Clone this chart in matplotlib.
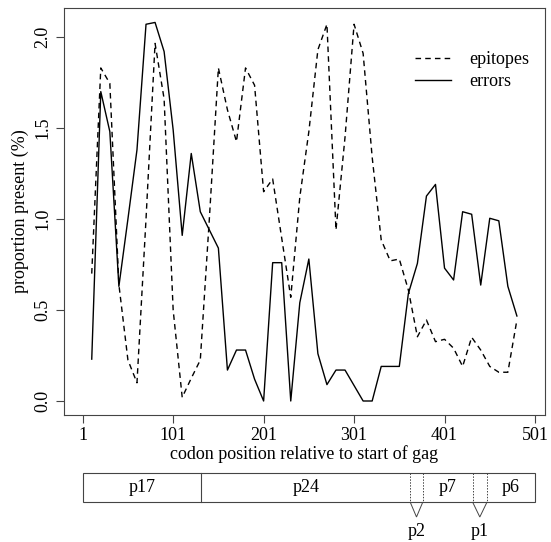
import matplotlib.pyplot as plt
from matplotlib.patches import Rectangle, Polygon

plt.rcParams['font.family'] = ['Liberation Serif', 'DejaVu Serif']

# codon positions of the sliding window
codon = [11, 21, 31, 41, 51, 61, 71, 81, 91, 101,
         111, 121, 131, 141, 151, 161, 171, 181, 191, 201,
         211, 221, 231, 241, 251, 261, 271, 281, 291, 301,
         311, 321, 331, 341, 351, 361, 371, 381, 391, 401,
         411, 421, 431, 441, 451, 461, 471, 481]

epitopes = [0.70, 1.83, 1.745, 0.64, 0.225, 0.10, 1.00, 1.965, 1.66, 0.50,
            0.02, 0.125, 0.225, 1.00, 1.83, 1.60, 1.425, 1.83, 1.735, 1.15,
            1.22, 0.895, 0.57, 1.12, 1.48, 1.93, 2.07, 0.94, 1.45, 2.07,
            1.91, 1.34, 0.885, 0.77, 0.78, 0.61, 0.353, 0.445, 0.326, 0.339,
            0.29, 0.19, 0.35, 0.28, 0.19, 0.158, 0.158, 0.445]

errors = [0.23, 1.70, 1.48, 0.63, 1.00, 1.38, 2.07, 2.08, 1.92, 1.49,
          0.91, 1.36, 1.04, 0.94, 0.84, 0.17, 0.28, 0.28, 0.12, 0.00,
          0.76, 0.76, 0.00, 0.54, 0.78, 0.26, 0.09, 0.17, 0.17, 0.085,
          0.00, 0.00, 0.19, 0.19, 0.19, 0.59, 0.756, 1.126, 1.19, 0.73,
          0.665, 1.04, 1.026, 0.637, 1.004, 0.99, 0.63, 0.467]

xticks = [1, 101, 201, 301, 401, 501]
yticks = [0.0, 0.5, 1.0, 1.5, 2.0]

# gag protein segments (codon boundaries)
seg_names = ['p17', 'p24', 'p2', 'p7', 'p1', 'p6']
seg_bounds = [1, 132, 363, 377, 432, 448, 501]
small_segs = ['p2', 'p1']

W, H = 551, 542
fs = 13
fig = plt.figure(figsize=(W / 100, H / 100), dpi=100)

left, right = 64 / W, 545 / W
bottom, top = 1 - 414.7 / H, 1 - 8.3 / H
ax = fig.add_axes([left, bottom, right - left, top - bottom])

ax.plot(codon, epitopes, color='black', lw=1.0, linestyle=(0, (4, 3)), label='epitopes')
ax.plot(codon, errors, color='black', lw=1.0, label='errors')

ax.set_xlim(-19.67, 512.06)
ax.set_ylim(-0.0753, 2.1577)
ax.set_xticks(xticks)
ax.set_xticklabels([str(t) for t in xticks])
ax.set_yticks(yticks)
ax.set_yticklabels([f'{t:.1f}' for t in yticks], rotation=90, va='center')
ax.tick_params(direction='out', length=6, width=0.8, labelsize=fs, pad=3)
for s in ax.spines.values():
    s.set_linewidth(0.8)
    s.set_color('#444444')
ax.tick_params(colors='#444444', labelcolor='black')

ax.set_xlabel('codon position relative to start of gag', fontsize=fs, labelpad=1)
ax.set_ylabel('proportion present (%)', fontsize=fs, labelpad=4)

ax.legend(loc='upper left', bbox_to_anchor=(0.73, 0.895), frameon=False,
          fontsize=fs, handlelength=2.0, handletextpad=1.0, labelspacing=0.3,
          borderpad=0, borderaxespad=0)

# gene map below the plot, y in pixel rows
ax2 = fig.add_axes([left, 0, right - left, 82 / H])
ax2.set_xlim(ax.get_xlim())
ax2.set_ylim(542, 460)
ax2.axis('off')

bar_top, bar_bot = 472.5, 502
ax2.add_patch(Rectangle((seg_bounds[0], bar_top), seg_bounds[-1] - seg_bounds[0],
                        bar_bot - bar_top, fill=False, lw=0.8, ec='#444444'))
for i, name in enumerate(seg_names):
    a, b = seg_bounds[i], seg_bounds[i + 1]
    mid = (a + b) / 2
    if name in small_segs:
        for xb in (a, b):
            ax2.plot([xb, xb], [bar_top, bar_bot], color='#444444', lw=0.7, linestyle=(0, (1.5, 1.5)))
        ax2.add_patch(Polygon([(a, bar_bot), (mid, 517), (b, bar_bot)], closed=False,
                              fill=False, lw=0.7, ec='#444444'))
        ax2.text(mid, 531, name, ha='center', va='center', fontsize=fs)
    else:
        if i > 0 and seg_names[i - 1] not in small_segs:
            ax2.plot([a, a], [bar_top, bar_bot], color='#444444', lw=0.8)
        ax2.text(mid, (bar_top + bar_bot) / 2, name, ha='center', va='center', fontsize=fs)

fig.savefig('out.png', dpi=100)
